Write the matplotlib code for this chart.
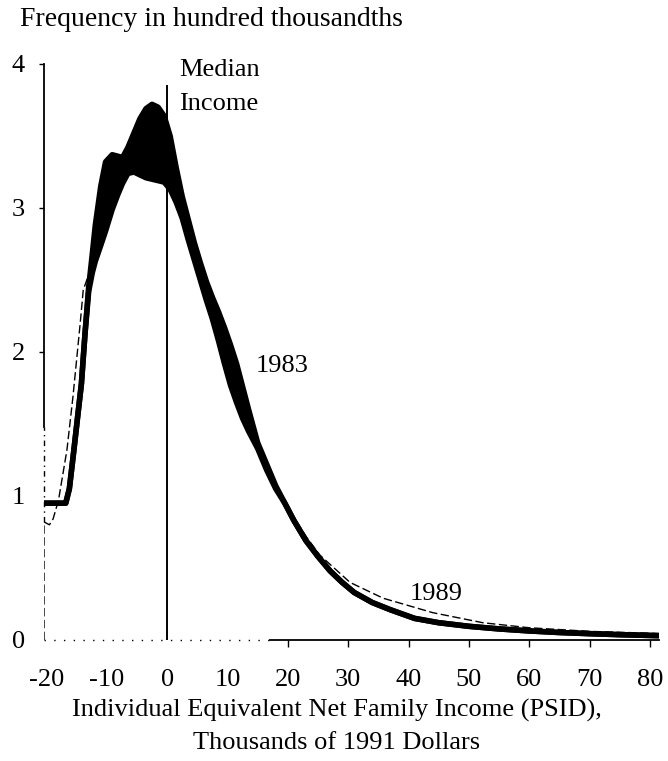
import matplotlib
matplotlib.use('Agg')
import matplotlib.pyplot as plt

plt.rcParams['font.family'] = ['Liberation Serif', 'DejaVu Serif']
plt.rcParams['axes.unicode_minus'] = False

# 1983 distribution, drawn as a band between two curves
x_1983 = [-20.4, -18.0, -16.8, -16.2, -15.5, -14.8, -14.2, -13.6, -13.0, -12.4,
          -11.9, -11.0, -10.2, -9.1, -8.2, -7.4, -6.5, -5.5, -4.5, -3.5,
          -2.5, -1.5, -0.5, 0.5, 1.5, 2.5, 3.5, 4.5, 5.5, 6.5,
          7.5, 8.5, 9.5, 10.5, 11.5, 12.5, 13.5, 15.0, 16.5, 18.0,
          19.5, 21.0, 23.0, 25.0, 27.0, 29.0, 31.0, 34.0, 37.0, 41.0,
          45.0, 50.0, 55.0, 60.0, 65.0, 70.0, 75.0, 81.5]
lo_1983 = [0.95, 0.95, 0.95, 1.05, 1.30, 1.56, 1.78, 2.13, 2.42, 2.55,
           2.63, 2.74, 2.84, 2.99, 3.09, 3.17, 3.24, 3.25, 3.23, 3.21,
           3.20, 3.19, 3.18, 3.13, 3.04, 2.93, 2.78, 2.64, 2.50, 2.36,
           2.23, 2.08, 1.92, 1.77, 1.65, 1.54, 1.45, 1.33, 1.18, 1.05,
           0.95, 0.83, 0.69, 0.58, 0.48, 0.40, 0.33, 0.26, 0.21, 0.15,
           0.12, 0.095, 0.077, 0.063, 0.052, 0.044, 0.037, 0.03]
hi_1983 = [0.95, 0.95, 0.95, 1.05, 1.30, 1.56, 1.78, 2.13, 2.45, 2.68,
           2.88, 3.15, 3.32, 3.37, 3.36, 3.35, 3.42, 3.52, 3.62, 3.69,
           3.72, 3.70, 3.64, 3.50, 3.28, 3.08, 2.92, 2.76, 2.62, 2.49,
           2.38, 2.28, 2.17, 2.05, 1.92, 1.76, 1.60, 1.37, 1.22, 1.07,
           0.95, 0.83, 0.69, 0.58, 0.48, 0.40, 0.33, 0.26, 0.21, 0.15,
           0.12, 0.095, 0.077, 0.063, 0.052, 0.044, 0.037, 0.03]

# 1989 distribution (thin dashed line)
x_1989 = [-20.4, -20.4, -19.5, -18.9, -18.0, -16.6, -15.6, -14.4, -13.9, -12.8,
          -11.0, -8.0, -4.0, 0.0, 4.0, 8.0, 12.0, 16.0, 20.0, 23.0,
          25.3, 30.3, 35.8, 44.0, 52.3, 60.0, 70.0, 81.5]
y_1989 = [0.0, 0.82, 0.80, 0.84, 0.97, 1.32, 1.69, 2.20, 2.43, 2.56,
          2.95, 3.25, 3.40, 3.35, 2.70, 2.20, 1.65, 1.22, 0.92, 0.72,
          0.59, 0.40, 0.29, 0.19, 0.12, 0.085, 0.06, 0.045]

x_ticks = [-20, -10, 0, 10, 20, 30, 40, 50, 60, 70, 80]
y_ticks = [0, 1, 2, 3, 4]
median_x = 0

fs = 19

fig = plt.figure(figsize=(6.68, 7.61), dpi=100)
ax = fig.add_axes([44 / 668, 121 / 761, 615 / 668, 576 / 761])

ax.plot(x_1989, y_1989, color='black', lw=1.0, dashes=(6, 2.5), zorder=2)

ax.fill_between(x_1983, lo_1983, hi_1983, color='black', lw=0, zorder=3)
ax.plot(x_1983, lo_1983, color='black', lw=4.0, solid_capstyle='butt', zorder=3)
ax.plot(x_1983, hi_1983, color='black', lw=4.0, solid_capstyle='butt', zorder=3)

ax.plot([median_x, median_x], [0, 3.85], color='black', lw=1.4, zorder=4)

ax.set_xlim(-20.4, 81.5)
ax.set_ylim(0, 4)

ax.spines['top'].set_visible(False)
ax.spines['right'].set_visible(False)
ax.spines['left'].set_linewidth(1.3)
ax.spines['bottom'].set_linewidth(1.3)
ax.spines['left'].set_bounds(1.48, 4)
ax.spines['bottom'].set_bounds(17, 81.5)
# scanned look: faint broken axis parts
ax.plot([-20.4, -20.4], [0.82, 1.48], color='black', lw=1.0,
        ls=(0, (4, 3, 1, 3)), clip_on=False, zorder=2)
ax.plot([-20.4, 17], [0, 0], color='black', lw=1.0,
        ls=(0, (1, 6)), clip_on=False, zorder=2)

ax.set_xticks(x_ticks)
ax.set_xticklabels([str(t) for t in x_ticks])
ax.set_yticks(y_ticks)
ax.set_yticklabels([str(t) for t in y_ticks])
ax.tick_params(axis='x', direction='out', length=5, width=1.0, pad=16, labelsize=fs)
ax.tick_params(axis='y', direction='out', length=3.6, width=1.0, pad=10, labelsize=fs)
for t in ax.xaxis.get_major_ticks()[:4]:
    t.tick1line.set_visible(False)
for t in ax.yaxis.get_major_ticks()[:2]:
    t.tick1line.set_visible(False)

ax.text(2.0, 3.92, 'Median', fontsize=fs, ha='left', va='baseline')
ax.text(2.0, 3.68, 'Income', fontsize=fs, ha='left', va='baseline')
ax.text(14.6, 1.86, '1983', fontsize=fs, ha='left', va='baseline')
ax.text(40.2, 0.28, '1989', fontsize=fs, ha='left', va='baseline')

fig.text(20 / 668, 1 - 20 / 761, 'Frequency in hundred thousandths',
         fontsize=20, ha='left', va='center')
fig.text(337 / 668, 1 - 710 / 761, 'Individual Equivalent Net Family Income (PSID),',
         fontsize=fs, ha='center', va='center')
fig.text(337 / 668, 1 - 743 / 761, 'Thousands of 1991 Dollars',
         fontsize=fs, ha='center', va='center')

fig.savefig('out.png', dpi=100)
